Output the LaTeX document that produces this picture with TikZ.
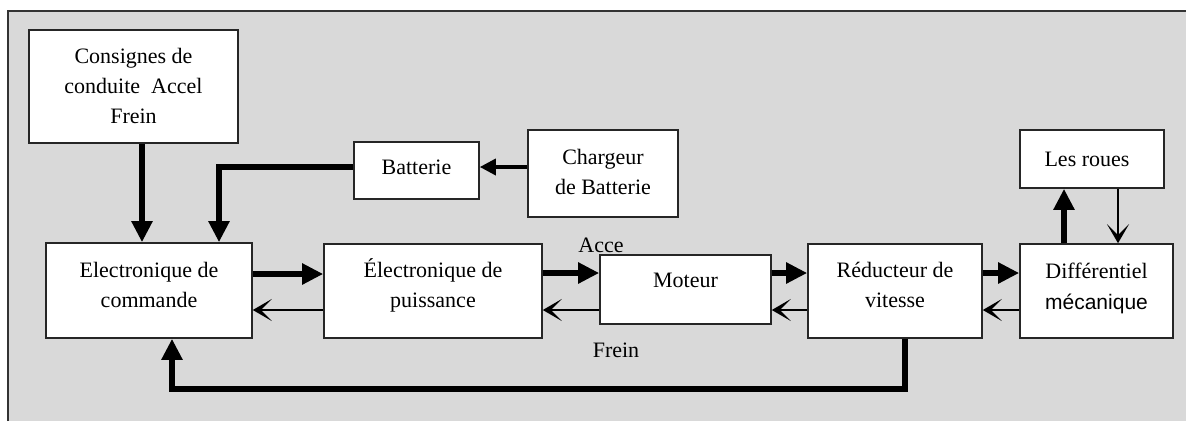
\documentclass[tikz,border=0pt]{standalone}
\usepackage{fontspec}
\setmainfont{Liberation Serif}
\setsansfont{Liberation Sans}
\usetikzlibrary{arrows.meta}
\definecolor{bggray}{HTML}{D9D9D9}
\begin{document}
\begin{tikzpicture}[x=1pt,y=-1pt,
  box/.style={draw=black!85, line width=1.6pt, fill=white, inner sep=0pt},
  lbl/.style={font=\fontsize{22}{30}\selectfont, align=center, inner sep=0pt, text=black},
  thickarrow/.style={line width=5.5pt, -{Triangle[length=21pt,width=20pt]}},
  thinarrow/.style={line width=2pt, -{Stealth[length=19pt,width=22pt,inset=11pt]}},
  medarrow/.style={line width=3.5pt, -{Triangle[length=16pt,width=16pt]}}]
\useasboundingbox (0,0) rectangle (1186,421);
% background frame
\fill[white] (0,0) rectangle (1186,421);
\fill[bggray] (8,11) rectangle (1186,421);
\draw[line width=2pt, black!80] (8,421) -- (8,11) -- (1186,11);

% boxes
\node[box, minimum width=209pt, minimum height=113pt] (cons)  at (133.5,86.5) {};
\node[box, minimum width=206pt, minimum height=95pt]  (ec)    at (149,290.5) {};
\node[box, minimum width=218pt, minimum height=94pt]  (ep)    at (433,291) {};
\node[box, minimum width=125pt, minimum height=57pt]  (bat)   at (416.5,170.5) {};
\node[box, minimum width=150pt, minimum height=87pt]  (charg) at (603,173.5) {};
\node[box, minimum width=171pt, minimum height=69pt]  (mot)   at (685.5,289.5) {};
\node[box, minimum width=174pt, minimum height=94pt]  (red)   at (895,291) {};
\node[box, minimum width=153pt, minimum height=94pt]  (diff)  at (1096.5,291) {};
\node[box, minimum width=144pt, minimum height=58pt]  (roues) at (1092,159) {};

% texts
\node[lbl] (tcons)  at ([yshift=1pt]cons.center) {Consignes de\\conduite\ \ Accel\\Frein};
\node[lbl] (tec)    at ([yshift=5.5pt]ec.center) {Electronique de\\commande};
\node[lbl] (tep)    at ([yshift=6pt]ep.center) {Électronique de\\puissance};
\node[lbl] (tbat)   at ([yshift=3pt]bat.center) {Batterie};
\node[lbl] (tcharg) at ([yshift=2pt]charg.center) {Chargeur\\de Batterie};
\node[lbl] (tmot)   at ([yshift=9pt]mot.center) {Moteur};
\node[lbl] (tred)   at ([yshift=6pt]red.center) {Réducteur de\\vitesse};
\node[lbl, anchor=base] (tdiff1) at (1096.5,278) {Différentiel};
\node[lbl, font=\sffamily\fontsize{21}{30}\selectfont, anchor=base] (tdiff2) at (1096.5,309) {mécanique};
\node[lbl] (troues) at ([xshift=-5pt]roues.center) {Les roues};
\node[lbl] (acce)  at (601,245) {Acce};
\node[lbl] (frein) at (616,350) {Frein};

% connectors
\draw[thickarrow] ([xshift=8.5pt]cons.south) -- ([xshift=-7pt]ec.north);
\draw[thickarrow] ([yshift=3.5pt]bat.west) -| ([xshift=70pt]ec.north);
\draw[medarrow] ([yshift=6.5pt]charg.west) -- ([yshift=6.5pt]charg.west -| bat.east);

\draw[thickarrow] ([yshift=16.5pt]ec.east) -- ([yshift=16.5pt]ec.east -| ep.west);
\draw[thinarrow]  ([yshift=-19.5pt]ec.east -| ep.west) -- ([yshift=-19.5pt]ec.east);

\draw[thickarrow] ([yshift=18pt]ep.east) -- ([yshift=18pt]ep.east -| mot.west);
\draw[thinarrow]  ([yshift=-19pt]ep.east -| mot.west) -- ([yshift=-19pt]ep.east);

\draw[thickarrow] ([yshift=18pt]red.west -| mot.east) -- ([yshift=18pt]red.west);
\draw[thinarrow]  ([yshift=-19pt]red.west) -- ([yshift=-19pt]red.west -| mot.east);

\draw[thickarrow] ([yshift=18pt]red.east) -- ([yshift=18pt]red.east -| diff.west);
\draw[thinarrow]  ([yshift=-19pt]red.east -| diff.west) -- ([yshift=-19pt]red.east);

\draw[thickarrow] ([xshift=-32.5pt]diff.north) -- ([xshift=-32.5pt]diff.north |- roues.south);
\draw[thinarrow]  ([xshift=21.5pt]diff.north |- roues.south) -- ([xshift=21.5pt]diff.north);

\draw[thickarrow] ([xshift=10pt]red.south) -- ++(0,50) -| ([xshift=23pt]ec.south);
\end{tikzpicture}
\end{document}
